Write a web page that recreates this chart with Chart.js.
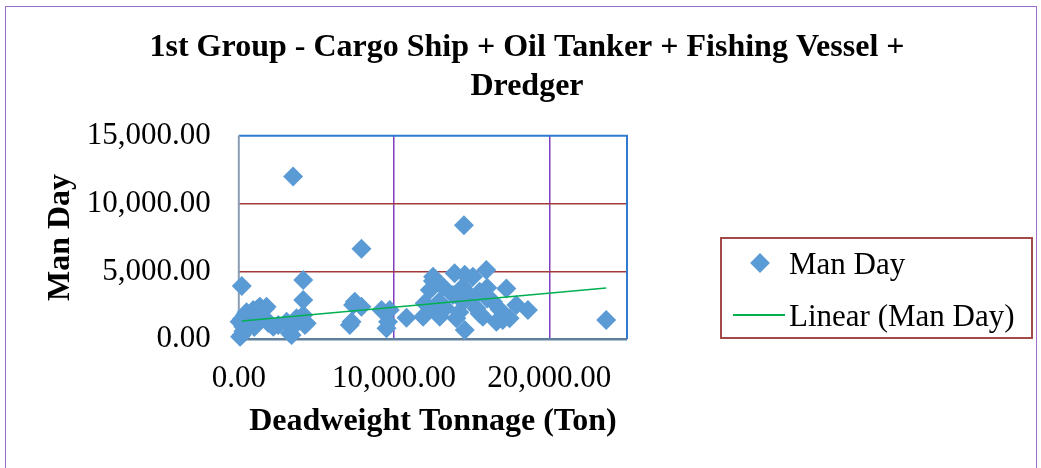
<!DOCTYPE html>
<html>
<head>
<meta charset="utf-8">
<script src="https://cdn.jsdelivr.net/npm/chart.js@4.4.0/dist/chart.umd.min.js"></script>
<style>
  html, body { margin:0; padding:0; background:#fff; }
  #wrap { position:relative; width:1041px; height:468px; overflow:hidden; background:#fff; }
  #frame { position:absolute; left:5px; top:6px; width:1030px; height:520px; border:1.5px solid #9B6FCB; }
  #c { position:absolute; left:0; top:0; }
  #legend { position:absolute; left:720px; top:237px; width:309px; height:98px; border:2px solid #A24A4A;
            font-family:"Liberation Serif","Times New Roman",serif; font-size:31px; color:#000; }
  .row { position:absolute; left:0; height:40px; line-height:40px; white-space:nowrap; }
  .dia { position:absolute; width:14px; height:14px; background:#5B9BD5; transform:rotate(45deg); }
  .ln { position:absolute; height:2px; background:#00B050; }
</style>
</head>
<body>
<div id="wrap">
  <div id="frame"></div>
  <canvas id="c" width="1041" height="468"></canvas>
  <div id="legend">
    <div class="dia" style="left:31px; top:17px;"></div>
    <div class="row" style="left:67px; top:5px;">Man Day</div>
    <div class="ln" style="left:11px; top:75px; width:52px;"></div>
    <div class="row" style="left:67px; top:57px;">Linear (Man Day)</div>
  </div>
</div>
<script>
// Deadweight tonnage (Ton) of each vessel
const deadweight = [80,190,290,50,400,720,930,1360,1580,1790,1250,1680,2220,2540,3080,3290,3400,3500,3720,4150,4370,4260,190,4150,4150,3500,300,600,900,1100,200,500,1900,1000,
  7900,7360,7470,7900,7260,7150,9190,9720,9610,9510,10800,11870,12940,
  14500,15940,12510,13900,15080,12500,14550,12300,13150,14440,15510,17230,16370,14440,13790,15300,12730,14010,15720,16590,17440,17870,14550,11970,12900,17000,18620,23660,16000,15000,14200,13300,16800,15500,16000];
// Man Day of each vessel
const manDay = [190,320,930,1300,1790,1420,2160,2400,1660,2400,2280,2250,930,1050,1300,440,320,930,1550,1790,1180,1050,3925,4370,2890,12000,600,1100,1300,1700,1500,2000,1200,900,
  6670,2530,2770,2400,1300,1050,2160,2160,1300,810,1590,1665,1665,
  8400,5100,4610,4860,4610,4300,4750,3630,3870,3870,3500,3750,2770,2770,3260,2280,2100,1550,1660,1300,1550,2530,690,2650,2770,1420,2160,1420,3000,3100,2000,2300,2200,1900,3800];
// Linear trend line (Man Day), end points
const trendX = [190, 23660];
const trendY = [1350, 3780];
// Axis ticks
const xTicks = [0, 10000, 20000];
const yTicks = [0, 5000, 10000, 15000];

const FONT = "'Liberation Serif','Times New Roman',serif";
const fmt = v => Number(v).toLocaleString('en-US',{minimumFractionDigits:2,maximumFractionDigits:2});

const borderPlugin = {
  id:'plotBorder',
  beforeDatasetsDraw(chart){
    const {ctx, chartArea:a} = chart;
    ctx.save();
    ctx.lineWidth = 2;
    ctx.strokeStyle = '#2E7BCF';
    ctx.beginPath(); ctx.moveTo(a.left, a.top); ctx.lineTo(a.right, a.top); ctx.lineTo(a.right, a.bottom); ctx.stroke();
    ctx.strokeStyle = '#8C9DB2';
    ctx.beginPath(); ctx.moveTo(a.left, a.top); ctx.lineTo(a.left, a.bottom); ctx.stroke();
    ctx.strokeStyle = '#60809E';
    ctx.lineWidth = 2.5;
    ctx.beginPath(); ctx.moveTo(a.left, a.bottom); ctx.lineTo(a.right, a.bottom); ctx.stroke();
    ctx.restore();
  }
};

const scatterData = deadweight.map((x,i)=>({x, y: manDay[i]}));
const trendData = trendX.map((x,i)=>({x, y: trendY[i]}));

new Chart(document.getElementById('c'), {
  type:'scatter',
  data:{ datasets:[
    { label:'Linear (Man Day)', type:'line', data:trendData, borderColor:'#00B050', borderWidth:1.6, pointRadius:0, fill:false, order:0, clip:false },
    { label:'Man Day', data:scatterData, backgroundColor:'#5B9BD5', borderColor:'#5B9BD5', borderWidth:0, pointStyle:'rectRot', pointRadius:10, pointHoverRadius:10, order:1, clip:false }
  ]},
  options:{
    responsive:false, animation:false,
    layout:{ padding:{ left:13, right:0, top:0, bottom:0 } },
    plugins:{
      legend:{ display:false },
      tooltip:{ enabled:false },
      title:{ display:true, text:['1st Group - Cargo Ship + Oil Tanker + Fishing Vessel +','Dredger'],
        color:'#000', font:{ family:FONT, size:32, weight:'bold', lineHeight:1.2 }, padding:{ top:28.8, bottom:30.1 } }
    },
    scales:{
      x:{ type:'linear', min:0, max:25000,
        afterBuildTicks: s => { s.ticks = xTicks.map(v=>({value:v})); },
        afterFit: s => { s.height = 468 - 339.3; },
        ticks:{ color:'#000', font:{ family:FONT, size:31 }, padding:21, maxRotation:0, callback: v => fmt(v) },
        grid:{ drawTicks:false, lineWidth:1.5, color: c => (c.tick && (c.tick.value===0)) ? 'rgba(0,0,0,0)' : '#7F3FBF' },
        border:{ display:false },
        title:{ display:true, text:'Deadweight Tonnage (Ton)', color:'#000', font:{ family:FONT, size:32, weight:'bold', lineHeight:1.2 }, padding:{ top:0, bottom:26.8 } }
      },
      y:{ type:'linear', min:0, max:15000,
        afterBuildTicks: s => { s.ticks = yTicks.map(v=>({value:v})); },
        afterFit: s => { s.width = 238.8 - 13; },
        ticks:{ color:'#000', font:{ family:FONT, size:31 }, padding:28, callback: v => fmt(v) },
        grid:{ drawTicks:false, lineWidth:1.5, color: c => (c.tick && (c.tick.value===0 || c.tick.value===15000)) ? 'rgba(0,0,0,0)' : '#A23B3B' },
        border:{ display:false },
        title:{ display:true, text:'Man Day', color:'#000', font:{ family:FONT, size:32, weight:'bold', lineHeight:1.2 }, padding:{ top:28.8, bottom:0 } }
      },
      yr:{ type:'linear', position:'right', display:true,
        afterFit: s => { s.width = 1041 - 627; },
        ticks:{ display:false }, grid:{ display:false, drawTicks:false }, border:{ display:false }
      }
    }
  },
  plugins:[borderPlugin]
});
</script>
</body>
</html>
